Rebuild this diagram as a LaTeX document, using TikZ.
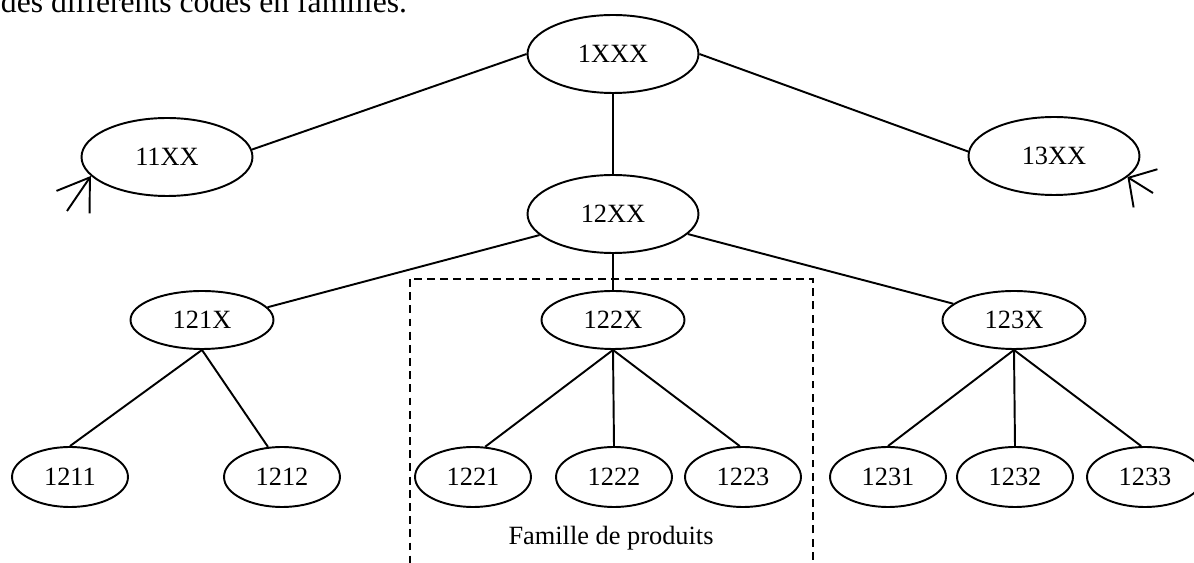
\documentclass[tikz,border=0pt]{standalone}
\usepackage{fontspec}
\setmainfont{Liberation Serif}
\usepackage{tikz}
\usetikzlibrary{arrows.meta}
\usetikzlibrary{shapes}
\tikzset{code node/.style={ellipse,draw,line width=1.1pt,inner sep=0pt,font=\fontsize{15}{18}\selectfont},
  big node/.style={code node,minimum width=3.42cm,minimum height=1.56cm},
  mid node/.style={code node,minimum width=2.86cm,minimum height=1.16cm},
  leaf node/.style={code node,minimum width=2.32cm,minimum height=1.2cm},}

\begin{document}
\begin{tikzpicture}[x=0.02cm, y=-0.02cm, line width=1.1pt]
		\clip (0,0) rectangle (1194,563);
		\node[anchor=base west, inner sep=0pt, font=\fontsize{18}{22}\selectfont] (intro) at (0,13) {des différents codes en familles.};

		\node[big node] (n1) at (613,54) {1XXX};
	    \node[big node] (n11) at (167,157) {11XX};
	    \node[big node] (n12) at (613,214) {12XX};
	    \node[big node] (n13) at (1054,156) {13XX};
	    \node[mid node] (n121) at (202,320) {121X};
	    \node[mid node] (n122) at (613,320) {122X};
	    \node[mid node] (n123) at (1014,320) {123X};
	    \node[leaf node] (n1211) at (70,477) {1211};
	    \node[leaf node] (n1212) at (282,477) {1212};
	    \node[leaf node] (n1221) at (473,477) {1221};
	    \node[leaf node] (n1222) at (614,477) {1222};
	    \node[leaf node] (n1223) at (743,477) {1223};
	    \node[leaf node] (n1231) at (888,477) {1231};
	    \node[leaf node] (n1232) at (1015,477) {1232};
	    \node[leaf node] (n1233) at (1145,477) {1233};

	    % famille de produits
	    \draw[dash pattern=on 4.5pt off 3pt] (410,279) rectangle (813,600);
	    \node[anchor=base, inner sep=0pt, font=\fontsize{15}{18}\selectfont] (fam) at (611,545) {Famille de produits};

	    \path[draw]
	    (n1.west) edge (n11.5)
	    (n1.east) edge (n13.177)
	    (n1.south) edge (n12.north)
	    (n12.196) edge (n121.11)
	    (n12.south) edge (n122.north)
	    (n12.345) edge (n123.165)
	    (n121.south) edge (n1211.north)
	    (n121.south) edge (n1212.115)
	    (n122.south) edge (n1221.68)
	    (n122.south) edge (n1222.north)
	    (n122.south) edge (n1223.96)
	    (n123.south) edge (n1231.north)
	    (n123.south) edge (n1232.north)
	    (n123.south) edge (n1233.97);

	    \coordinate (in11) at (67,211);
	    \coordinate (in13) at (1153,193);
	    \draw[-{Straight Barb[length=0.6cm,width=0.8cm]}] (in11) -- (n11.194);
	    \draw[-{Straight Barb[length=0.4cm,width=0.9cm]}] (in13) -- (n13.344);
	\end{tikzpicture}
\end{document}
